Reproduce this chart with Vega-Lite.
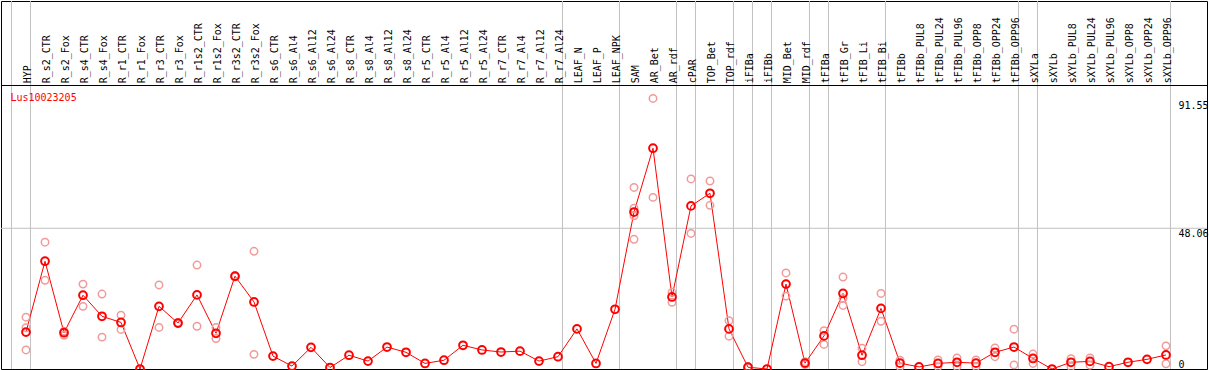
{
  "$schema": "https://vega.github.io/schema/vega-lite/v6.json",
  "width": 1206,
  "height": 368,
  "padding": {"left": 1, "top": 1, "right": 2, "bottom": 1},
  "autosize": {"type": "none"},
  "background": "white",
  "config": {"view": {"stroke": "#000000", "strokeWidth": 1}, "font": "DejaVu Sans Mono"},
  "datasets": {
    "genes": [
      {"i": 0, "name": "HYP", "mean": 12.6},
      {"i": 1, "name": "R_s2_CTR", "mean": 36.8},
      {"i": 2, "name": "R_s2_Fox", "mean": 12.4},
      {"i": 3, "name": "R_s4_CTR", "mean": 25.2},
      {"i": 4, "name": "R_s4_Fox", "mean": 18.0},
      {"i": 5, "name": "R_r1_CTR", "mean": 15.9},
      {"i": 6, "name": "R_r1_Fox", "mean": 0},
      {"i": 7, "name": "R_r3_CTR", "mean": 21.4},
      {"i": 8, "name": "R_r3_Fox", "mean": 15.7},
      {"i": 9, "name": "R_r1s2_CTR", "mean": 25.3},
      {"i": 10, "name": "R_r1s2_Fox", "mean": 12.2},
      {"i": 11, "name": "R_r3s2_CTR", "mean": 31.7},
      {"i": 12, "name": "R_r3s2_Fox", "mean": 22.9},
      {"i": 13, "name": "R_s6_CTR", "mean": 4.4},
      {"i": 14, "name": "R_s6_Al4", "mean": 1.0},
      {"i": 15, "name": "R_s6_Al12", "mean": 7.4},
      {"i": 16, "name": "R_s6_Al24", "mean": 0.5},
      {"i": 17, "name": "R_s8_CTR", "mean": 4.7},
      {"i": 18, "name": "R_s8_Al4", "mean": 2.7},
      {"i": 19, "name": "R_s8_Al12", "mean": 7.5},
      {"i": 20, "name": "R_s8_Al24", "mean": 5.7},
      {"i": 21, "name": "R_r5_CTR", "mean": 1.9},
      {"i": 22, "name": "R_r5_Al4", "mean": 3.0},
      {"i": 23, "name": "R_r5_Al12", "mean": 8.1},
      {"i": 24, "name": "R_r5_Al24", "mean": 6.5},
      {"i": 25, "name": "R_r7_CTR", "mean": 5.8},
      {"i": 26, "name": "R_r7_Al4", "mean": 6.1},
      {"i": 27, "name": "R_r7_Al12", "mean": 2.7},
      {"i": 28, "name": "R_r7_Al24", "mean": 4.2},
      {"i": 29, "name": "LEAF_N", "mean": 13.7},
      {"i": 30, "name": "LEAF_P", "mean": 1.9},
      {"i": 31, "name": "LEAF_NPK", "mean": 20.4},
      {"i": 32, "name": "SAM", "mean": 53.6},
      {"i": 33, "name": "AR_Bet", "mean": 75.4},
      {"i": 34, "name": "AR_rdf", "mean": 24.6},
      {"i": 35, "name": "cPAR", "mean": 55.7},
      {"i": 36, "name": "TOP_Bet", "mean": 60.0},
      {"i": 37, "name": "TOP_rdf", "mean": 13.7},
      {"i": 38, "name": "iFIBa", "mean": 0.6},
      {"i": 39, "name": "iFIBb", "mean": 0},
      {"i": 40, "name": "MID_Bet", "mean": 29.0},
      {"i": 41, "name": "MID_rdf", "mean": 2.0},
      {"i": 42, "name": "tFIBa", "mean": 11.3},
      {"i": 43, "name": "tFIB_Gr", "mean": 25.8},
      {"i": 44, "name": "tFIB_Li", "mean": 4.7},
      {"i": 45, "name": "tFIB_Bi", "mean": 20.7},
      {"i": 46, "name": "tFIBb", "mean": 2.0},
      {"i": 47, "name": "tFIBb_PUL8", "mean": 0.7},
      {"i": 48, "name": "tFIBb_PUL24", "mean": 1.9},
      {"i": 49, "name": "tFIBb_PUL96", "mean": 2.3},
      {"i": 50, "name": "tFIBb_OPP8", "mean": 2.0},
      {"i": 51, "name": "tFIBb_OPP24", "mean": 5.7},
      {"i": 52, "name": "tFIBb_OPP96", "mean": 7.5},
      {"i": 53, "name": "sXYLa", "mean": 3.6},
      {"i": 54, "name": "sXYLb", "mean": 0},
      {"i": 55, "name": "sXYLb_PUL8", "mean": 2.3},
      {"i": 56, "name": "sXYLb_PUL24", "mean": 2.6},
      {"i": 57, "name": "sXYLb_PUL96", "mean": 0.8},
      {"i": 58, "name": "sXYLb_OPP8", "mean": 2.3},
      {"i": 59, "name": "sXYLb_OPP24", "mean": 3.3},
      {"i": 60, "name": "sXYLb_OPP96", "mean": 4.8}
    ],
    "reps": [
      {"i": 0, "v": 17.7}, {"i": 0, "v": 14.1}, {"i": 0, "v": 6.5},
      {"i": 1, "v": 43.3}, {"i": 1, "v": 30.3},
      {"i": 2, "v": 12.9}, {"i": 2, "v": 11.5}, {"i": 2, "v": 12.7},
      {"i": 3, "v": 29.0}, {"i": 3, "v": 21.4},
      {"i": 4, "v": 25.6}, {"i": 4, "v": 10.9},
      {"i": 5, "v": 18.4}, {"i": 5, "v": 13.5},
      {"i": 7, "v": 28.7}, {"i": 7, "v": 14.2},
      {"i": 8, "v": 15.9}, {"i": 8, "v": 15.5},
      {"i": 9, "v": 35.5}, {"i": 9, "v": 14.6},
      {"i": 10, "v": 14.2}, {"i": 10, "v": 10.4},
      {"i": 11, "v": 31.9}, {"i": 11, "v": 31.5},
      {"i": 12, "v": 40.2}, {"i": 12, "v": 5.0},
      {"i": 32, "v": 62.0}, {"i": 32, "v": 54.9}, {"i": 32, "v": 52.3}, {"i": 32, "v": 44.3},
      {"i": 33, "v": 92.4}, {"i": 33, "v": 58.6},
      {"i": 34, "v": 26.2}, {"i": 34, "v": 22.8},
      {"i": 35, "v": 64.9}, {"i": 35, "v": 46.3},
      {"i": 36, "v": 64.2}, {"i": 36, "v": 55.9},
      {"i": 37, "v": 16.5}, {"i": 37, "v": 11.2},
      {"i": 38, "v": 0.8}, {"i": 38, "v": 0.4},
      {"i": 40, "v": 32.8}, {"i": 40, "v": 24.9},
      {"i": 41, "v": 2.5}, {"i": 41, "v": 1.5},
      {"i": 42, "v": 13.1}, {"i": 42, "v": 8.4},
      {"i": 43, "v": 31.4}, {"i": 43, "v": 24.1}, {"i": 43, "v": 21.7},
      {"i": 44, "v": 7.1}, {"i": 44, "v": 2.5},
      {"i": 45, "v": 25.8}, {"i": 45, "v": 16.3},
      {"i": 46, "v": 3.0}, {"i": 46, "v": 0.8},
      {"i": 48, "v": 3.1}, {"i": 48, "v": 0.8},
      {"i": 49, "v": 3.8}, {"i": 49, "v": 0.8},
      {"i": 50, "v": 3.1}, {"i": 50, "v": 0.8},
      {"i": 51, "v": 7.2}, {"i": 51, "v": 4.2},
      {"i": 52, "v": 13.6}, {"i": 52, "v": 1.4},
      {"i": 53, "v": 5.1}, {"i": 53, "v": 1.9},
      {"i": 55, "v": 3.5}, {"i": 55, "v": 0.8},
      {"i": 56, "v": 3.8}, {"i": 56, "v": 1.3},
      {"i": 60, "v": 7.9}, {"i": 60, "v": 1.8}
    ],
    "separators": [
      {"pos": -0.765}, {"pos": 0.235}, {"pos": 28.235}, {"pos": 31.235},
      {"pos": 34.235}, {"pos": 35.235}, {"pos": 37.235}, {"pos": 38.235},
      {"pos": 39.235}, {"pos": 41.235}, {"pos": 42.235}, {"pos": 45.235},
      {"pos": 52.235}, {"pos": 53.235}, {"pos": 60.235}
    ]
  },
  "layer": [
    {
      "data": {"name": "separators"},
      "mark": {"type": "rule", "color": "#c0c0c0", "strokeWidth": 1},
      "encoding": {
        "x": {"field": "pos", "type": "quantitative", "scale": {"domain": [-1.31579, 62.15789], "nice": false, "zero": false}, "axis": null}
      }
    },
    {
      "data": {"values": [{"g": 48.06}]},
      "mark": {"type": "rule", "color": "#c0c0c0", "strokeWidth": 1},
      "encoding": {
        "y": {"field": "g", "type": "quantitative", "scale": {"domain": [0, 125.68], "nice": false, "zero": false},
          "axis": {"orient": "right", "values": [0, 48.06, 91.55], "title": null, "grid": false, "domain": false, "ticks": false, "tickSize": 0,
            "labelPadding": -29, "labelAlign": "left", "labelFont": "DejaVu Sans Mono", "labelFontSize": 10, "labelColor": "#000000",
            "labelBaseline": {"condition": {"test": "datum.value == 0", "value": "bottom"}, "value": "top"},
            "labelOverlap": false, "labelBound": false, "labelFlush": false, "format": ".2~f"}}
      }
    },
    {
      "data": {"values": [{"h": 96.82}]},
      "mark": {"type": "rule", "color": "#000000", "strokeWidth": 1},
      "encoding": {"y": {"field": "h", "type": "quantitative"}}
    },
    {
      "data": {"name": "genes"},
      "mark": {"type": "text", "angle": 270, "align": "left", "baseline": "middle", "dy": 1.5, "font": "DejaVu Sans Mono", "fontSize": 10, "color": "#000000"},
      "encoding": {
        "x": {"field": "i", "type": "quantitative"},
        "y": {"datum": 97.55, "type": "quantitative"},
        "text": {"field": "name"}
      }
    },
    {
      "data": {"values": [{"label": "Lus10023205"}]},
      "mark": {"type": "text", "align": "left", "baseline": "top", "font": "DejaVu Sans Mono", "fontSize": 10, "color": "#ff0000"},
      "encoding": {
        "x": {"datum": -0.82, "type": "quantitative"},
        "y": {"datum": 94.3, "type": "quantitative"},
        "text": {"field": "label"}
      }
    },
    {
      "data": {"name": "genes"},
      "mark": {"type": "line", "color": "#ff0000", "strokeWidth": 1},
      "encoding": {
        "x": {"field": "i", "type": "quantitative"},
        "y": {"field": "mean", "type": "quantitative"}
      }
    },
    {
      "data": {"name": "reps"},
      "mark": {"type": "point", "shape": "circle", "filled": false, "color": "#f09a9a", "strokeWidth": 1.5, "size": 55, "opacity": 1},
      "encoding": {
        "x": {"field": "i", "type": "quantitative"},
        "y": {"field": "v", "type": "quantitative"}
      }
    },
    {
      "data": {"name": "genes"},
      "mark": {"type": "point", "shape": "circle", "filled": false, "color": "#ff0000", "strokeWidth": 2, "size": 60, "opacity": 1},
      "encoding": {
        "x": {"field": "i", "type": "quantitative"},
        "y": {"field": "mean", "type": "quantitative"}
      }
    }
  ]
}
